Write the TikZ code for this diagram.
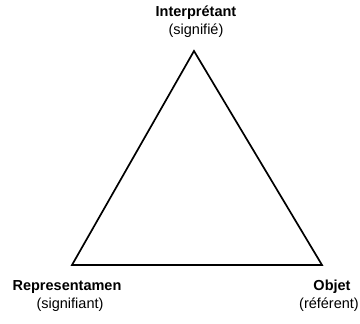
\documentclass[tikz,border=0pt]{standalone}
\usepackage{fontspec}
\setmainfont{Liberation Sans}
\usepackage{tikz}

\begin{document}
\begin{tikzpicture}[x=1pt,y=-1pt,
    titre/.style={font=\fontsize{14.5}{16}\selectfont\bfseries, inner sep=0pt},
    sous/.style={font=\fontsize{14.5}{16}\selectfont, inner sep=0pt}]
    \useasboundingbox (0,0) rectangle (360,324);
    \node[titre] (ti) at (196, 13) {Interprétant};
    \node[sous] (si) at (196, 31) {(signifié)};
    \node[titre] (tr) at (67, 287) {Representamen};
    \node[sous] (sr) at (70, 305) {(signifiant)};
    \node[titre] (to) at (332, 287) {Objet};
    \node[sous] (so) at (329, 305) {(référent)};
    \coordinate (i) at (194, 51);
    \coordinate (r) at (72, 265);
    \coordinate (o) at (322, 265);
    \draw [line width=1.7pt, line join=miter] (i) -- (r) -- (o) -- cycle;
  \end{tikzpicture}
\end{document}
